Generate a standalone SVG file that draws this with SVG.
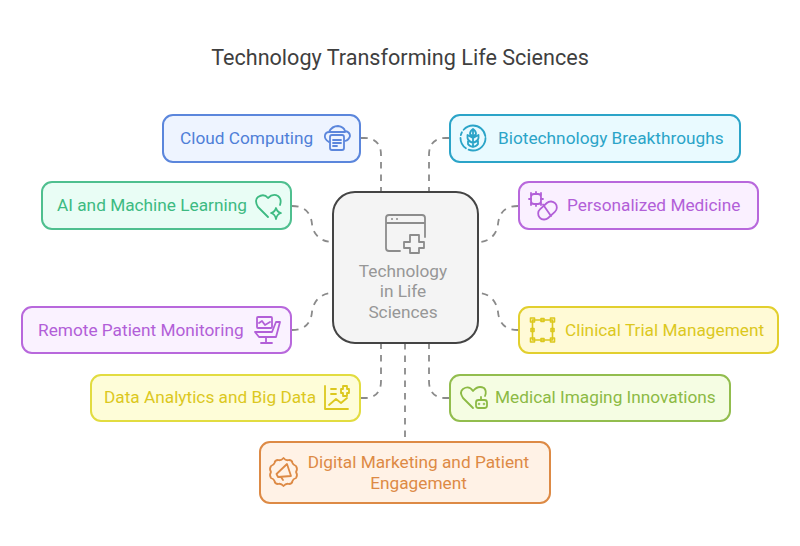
<svg xmlns="http://www.w3.org/2000/svg" width="800" height="546" viewBox="0 0 800 546">
<defs><style>
text{font-family:Roboto,"Liberation Sans",sans-serif;font-size:17.25px}
.box{stroke-width:2}
.ic{fill:none;stroke-width:1.8;stroke-linecap:round;stroke-linejoin:round}
.con{fill:none;stroke:#8a8a8a;stroke-width:1.8;stroke-dasharray:6.5 6}
.blue{fill:#4f7fd8;}.green{fill:#3dba82}.cyan{fill:#2ba4c8}.purple{fill:#b25fd8}.yellow{fill:#dcc81e}.lime{fill:#8cba44}.orange{fill:#dd8a45}
</style></defs>
<rect width="800" height="546" fill="#fff"/>
<text x="400" y="65" text-anchor="middle" style="font-size:21.6px" fill="#3f3f3f">Technology Transforming Life Sciences</text>
<g id="connectors" class="con">
<path d="M361 138H364Q381 138 381 155V192"/>
<path d="M292 206C306 206 311 214 312 224C313 234 320 242 333 242"/>
<path d="M449 138H446Q429 138 429 155V192"/>
<path d="M518 206C504 206 499 214 498 224C497 234 490 242 478 242"/>
<path d="M292 330C306 330 311 322 312 312C313 302 320 293 333 293"/>
<path d="M518 330C504 330 499 322 498 312C497 302 490 293 478 293"/>
<path d="M361 398H364Q381 398 381 381V343"/>
<path d="M449 398H446Q429 398 429 381V343"/>
<path d="M405 343V441"/>
</g>
<g id="center">
<rect x="333" y="192" width="145" height="151" rx="22" fill="#f4f4f4" stroke="#444" stroke-width="2"/>
<g class="ic" stroke="#8c8c8c"><path d="M400 251H389Q386 251 386 248V218Q386 215 389 215H422Q425 215 425 218V237M386 223H425"/><path d="M410 235H419V242H424V248H419V253H410V248H404V242H410Z"/></g>
<circle cx="392" cy="219" r="1" fill="#8c8c8c"/><circle cx="397" cy="219" r="1" fill="#8c8c8c"/>
<g text-anchor="middle" fill="#979797"><text x="403" y="277">Technology</text><text x="403" y="297">in Life</text><text x="403" y="318">Sciences</text></g>
</g>
<g id="cloud">
<rect x="163" y="115" width="197" height="47" rx="10" fill="#eef4ff" stroke="#5b86dc" class="box"/>
<text x="180" y="144" class="blue">Cloud Computing</text>
<g class="ic" stroke="#5b86dc"><path d="M329 142Q324 139 325 135Q326 132 329 132Q332 126 338 126Q344 127 345 131Q350 132 350 136Q349 140 345 141M330 132H345"/><rect x="330" y="135" width="14" height="15" rx="2"/><path d="M333 140H341M333 143H341M333 146H337"/></g>
</g>
<g id="biotech">
<rect x="450" y="115" width="290" height="47" rx="10" fill="#e9faff" stroke="#2ba4c8" class="box"/>
<text x="498" y="144" class="cyan">Biotechnology Breakthroughs</text>
<g class="ic" stroke="#2ba4c8"><circle cx="473" cy="138" r="12.5" stroke-dasharray="24 3 12 3 3 3 28 3"/><path d="M473 130V147M473 138L467.500 135V138Q468 141 473 143Q478 141 478.500 138V135ZM473 143L468 141V144Q469 146 473 147Q477 146 478 144V141ZM473 137L470 134Q470 131 473 129Q476 131 476 134Z"/></g>
</g>
<g id="ai">
<rect x="42" y="182" width="249" height="47" rx="10" fill="#e9fdf5" stroke="#4fbf8f" class="box"/>
<text x="57" y="211" class="green">AI and Machine Learning</text>
<g class="ic" stroke="#3dba82"><path d="M268 217L258 207Q254 200 258 197Q264 193 268 198Q273 193 278 196Q282 199 280 205"/><path d="M276 208Q277 212 281 213Q277 214 276 219Q275 214 271 213Q275 212 276 208Z"/></g>
</g>
<g id="personal">
<rect x="519" y="182" width="239" height="47" rx="10" fill="#faf0ff" stroke="#b868dc" class="box"/>
<text x="567" y="211" class="purple">Personalized Medicine</text>
<g class="ic" stroke="#b25fd8"><rect x="531" y="194" width="10" height="10" rx="3"/><path d="M536 192V194M536 204V206M529 199H531M541 199H543M531 193V195M541 193V195M531 203V205M541 203V205"/><rect x="537" y="204.500" width="21" height="12" rx="6" transform="rotate(-42 547.500 210.500)"/><path d="M543 204.500L551 216"/></g>
</g>
<g id="remote">
<rect x="22" y="307" width="269" height="46" rx="10" fill="#faf2ff" stroke="#b868dc" class="box"/>
<text x="38" y="336" class="purple">Remote Patient Monitoring</text>
<g class="ic" stroke="#b25fd8"><rect x="257" y="317" width="15" height="11" rx="1"/><path d="M259 323L262 321L265 325L270 322M255 332H272L276 322H280L276 337H259L255 332ZM266 337V342M261 343H272"/></g>
</g>
<g id="clinical">
<rect x="519" y="307" width="259" height="46" rx="10" fill="#fffad6" stroke="#e2cf2e" class="box"/>
<text x="565" y="336" class="yellow">Clinical Trial Management</text>
<g class="ic" stroke="#dcc81e" style="stroke-width:1.6"><rect x="532.500" y="320" width="20" height="20"/><rect x="530.500" y="318" width="4" height="4"/><rect x="550.500" y="318" width="4" height="4"/><rect x="530.500" y="338" width="4" height="4"/><rect x="550.500" y="338" width="4" height="4"/><rect x="541" y="318.500" width="3" height="3"/><rect x="541" y="338.500" width="3" height="3"/><rect x="531" y="328.500" width="3" height="3"/><rect x="551" y="328.500" width="3" height="3"/></g>
</g>
<g id="data">
<rect x="91" y="375" width="269" height="46" rx="10" fill="#fefdd8" stroke="#e2dc40" class="box"/>
<text x="104" y="403" class="yellow">Data Analytics and Big Data</text>
<g class="ic" stroke="#dcc81e"><path d="M325 386V409H348M331 389H336M331 394H336M329 405L336 399L341 403L347 398"/><path d="M341 389H343V386H347V389H349V393H347V396H343V393H341Z"/></g>
</g>
<g id="imaging">
<rect x="450" y="375" width="280" height="46" rx="10" fill="#f5fde3" stroke="#92bd4e" class="box"/>
<text x="495" y="403" class="lime">Medical Imaging Innovations</text>
<g class="ic" stroke="#8cba44"><path d="M473 408L463 398Q459 392 463 389Q469 385 473 391Q478 385 484 388Q487 391 485 396"/><rect x="476" y="400" width="11" height="8" rx="2.500"/><path d="M481 397V400"/><circle cx="479" cy="404" r=".4"/><circle cx="484" cy="404" r=".4"/></g>
</g>
<g id="marketing">
<rect x="260" y="442" width="290" height="61" rx="10" fill="#fff2e6" stroke="#dd8a45" class="box"/>
<g text-anchor="middle" class="orange"><text x="418.500" y="468">Digital Marketing and Patient</text><text x="418.500" y="489">Engagement</text></g>
<g class="ic" stroke="#dd8a45"><path d="M283.500 458Q286 461 289 460Q292 460 292.500 463Q293 465 296 466Q298 469 296 472Q298 475 296 478Q293 479 292.500 481Q292 484 289 484Q286 483 283.500 486Q281 483 278 484Q275 484 274.500 481Q274 479 271 478Q269 475 271 472Q269 469 271 466Q274 465 274.500 463Q275 460 278 460Q281 461 283.500 458Z"/><path d="M287 464L291 476L278 477L276.500 474ZM281 477L283 480"/></g>
</g>
</svg>
